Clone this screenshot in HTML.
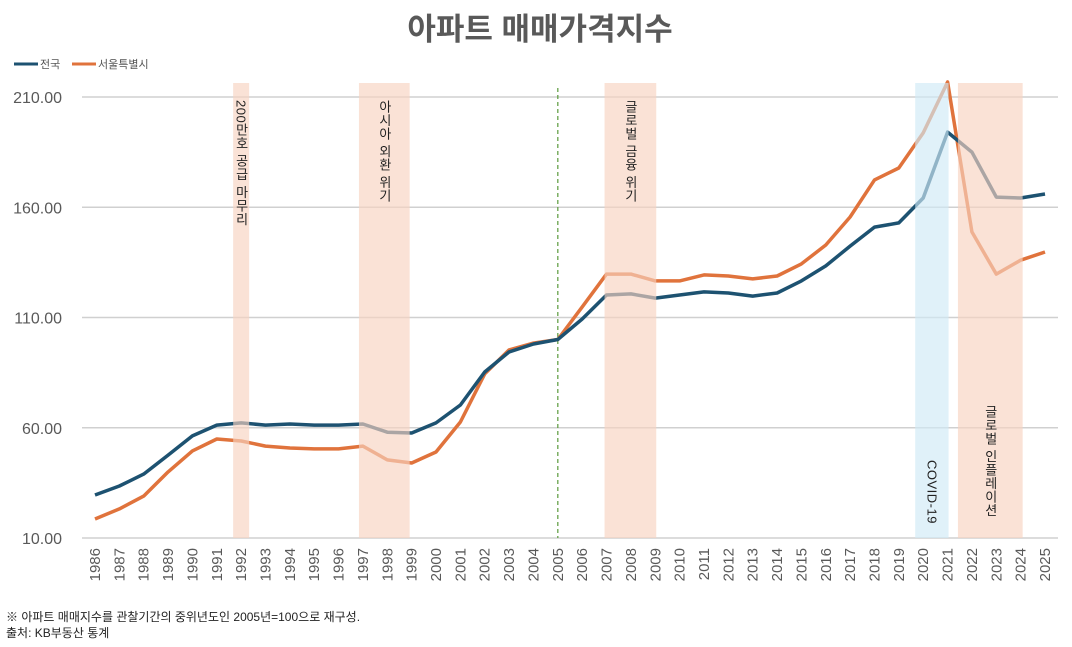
<!DOCTYPE html>
<html><head><meta charset="utf-8">
<style>
body{margin:0;background:#fff;}
svg text{font-family:"Liberation Sans","Noto Sans CJK KR",sans-serif;}
.vt{writing-mode:vertical-rl;text-orientation:mixed;}
</style></head>
<body>
<svg id="chart" width="1072" height="642" viewBox="0 0 1072 642" xmlns="http://www.w3.org/2000/svg">
<text x="540" y="40" text-anchor="middle" font-size="31" font-weight="bold" fill="#595959">아파트 매매가격지수</text>
<g>
<line x1="14" y1="64" x2="38" y2="64" stroke="#1d5271" stroke-width="3"/>
<text x="40" y="68" font-size="11" fill="#555">전국</text>
<line x1="72" y1="64" x2="96" y2="64" stroke="#e0733c" stroke-width="3"/>
<text x="98" y="68" font-size="11" fill="#555">서울특별시</text>
</g>
<g id="grid"></g>
<g id="lines"></g>
<g id="bands"></g>
<g id="xlabels"></g>
<text x="6" y="621" font-size="12" fill="#222">※ 아파트 매매지수를 관찰기간의 중위년도인  2005년=100으로 재구성.</text>
<text x="6" y="637" font-size="12" fill="#222">출처: KB부동산 통계</text>
</svg>
<script>
const years = [1986,1987,1988,1989,1990,1991,1992,1993,1994,1995,1996,1997,1998,1999,2000,2001,2002,2003,2004,2005,2006,2007,2008,2009,2010,2011,2012,2013,2014,2015,2016,2017,2018,2019,2020,2021,2022,2023,2024,2025];
const national = [29.5,33.6,39,47.6,56.3,61.2,62.2,61.2,61.7,61.2,61.2,61.7,58,57.6,62.2,70.3,85.3,94.4,98,100,109.3,120.2,120.7,118.8,120.2,121.6,121.1,119.7,121.1,126.6,133.4,142.4,151,152.9,164.2,194.1,185,164.6,164.2,166];
const seoul = [18.6,23.2,29,40,49.5,54.9,54,51.7,50.8,50.4,50.4,51.7,45.4,44,49,62.6,84.4,95.3,98.4,100,114.8,129.7,129.7,126.6,126.6,129.3,128.8,127.5,128.8,134.3,142.9,155.6,172.4,177.8,193.7,216.8,148.8,129.7,136,139.7];
const yTicks = [10,60,110,160,210];
const bandStarts = [1992,1997,2007,2020,2022];
const bandEnds = [1992,1999,2009,2021,2024];
const bandLabels = ["200만호 공급 마무리","아시아 외환 위기","글로벌 금융 위기","COVID-19","글로벌 인플레이션"];

const NS="http://www.w3.org/2000/svg";
const x = y => 95 + (y-1986)*(950/39);
const yv = v => 538 - (v-10)*2.205;
const padL = [8,4,2,8,14];
const padR = [8,-2,1,1,2];
const labelY = [100,100,100,460,405];
function mk(tag, attrs, parent){const e=document.createElementNS(NS,tag);for(const k in attrs)e.setAttribute(k,attrs[k]);parent.appendChild(e);return e;}
const grid=document.getElementById('grid'), lines=document.getElementById('lines'), bands=document.getElementById('bands'), xl=document.getElementById('xlabels');
yTicks.forEach(t=>{
  const l=mk('line',{x1:82,x2:1058,y1:yv(t),y2:yv(t),stroke:'#d0d0d0','stroke-width':1.5},grid);
  
  
  const tx=mk('text',{x:62,y:yv(t)+6,'text-anchor':'end','font-size':16,fill:'#595959'},grid);
  tx.textContent=t.toFixed(2);
  
  
});
const dl=mk('line',{x1:x(2005),x2:x(2005),y1:88,y2:538,stroke:'#5a9a3c','stroke-width':1.2,'stroke-dasharray':'4,3'},grid);


function path(vals){return vals.map((v,i)=>(i?'L':'M')+x(years[i]).toFixed(1)+','+yv(v).toFixed(1)).join(' ');}
const ps=mk('path',{d:path(seoul),fill:'none',stroke:'#e0733c','stroke-width':3.5,'stroke-linejoin':'round'},lines);


const pn=mk('path',{d:path(national),fill:'none',stroke:'#1d5271','stroke-width':3.5,'stroke-linejoin':'round'},lines);


bandStarts.forEach((s,i)=>{
  const x0=x(s)-padL[i], x1=x(bandEnds[i])+padR[i];
  const covid=bandLabels[i]==="COVID-19";
  const r=mk('rect',{x:x0,y:83,width:x1-x0,height:455,fill:covid?'#cfe9f6':'#f8d3c0','fill-opacity':0.65},bands);
  
  
  const cx=(x0+x1)/2;
  const ty = labelY[i];
  const t=mk('text',{x:cx,y:ty,'class':'vt','font-size':13,'letter-spacing':0.5,fill:'#222'},bands);
  t.textContent=bandLabels[i];
  
  
});
years.forEach(yr=>{
  const px=x(yr);
  const t=mk('text',{x:px+5,y:548,transform:`rotate(-90 ${px+5} 548)`,'text-anchor':'end','font-size':15,fill:'#595959'},xl);
  t.textContent=yr;
  
  
});
</script>
</body></html>
